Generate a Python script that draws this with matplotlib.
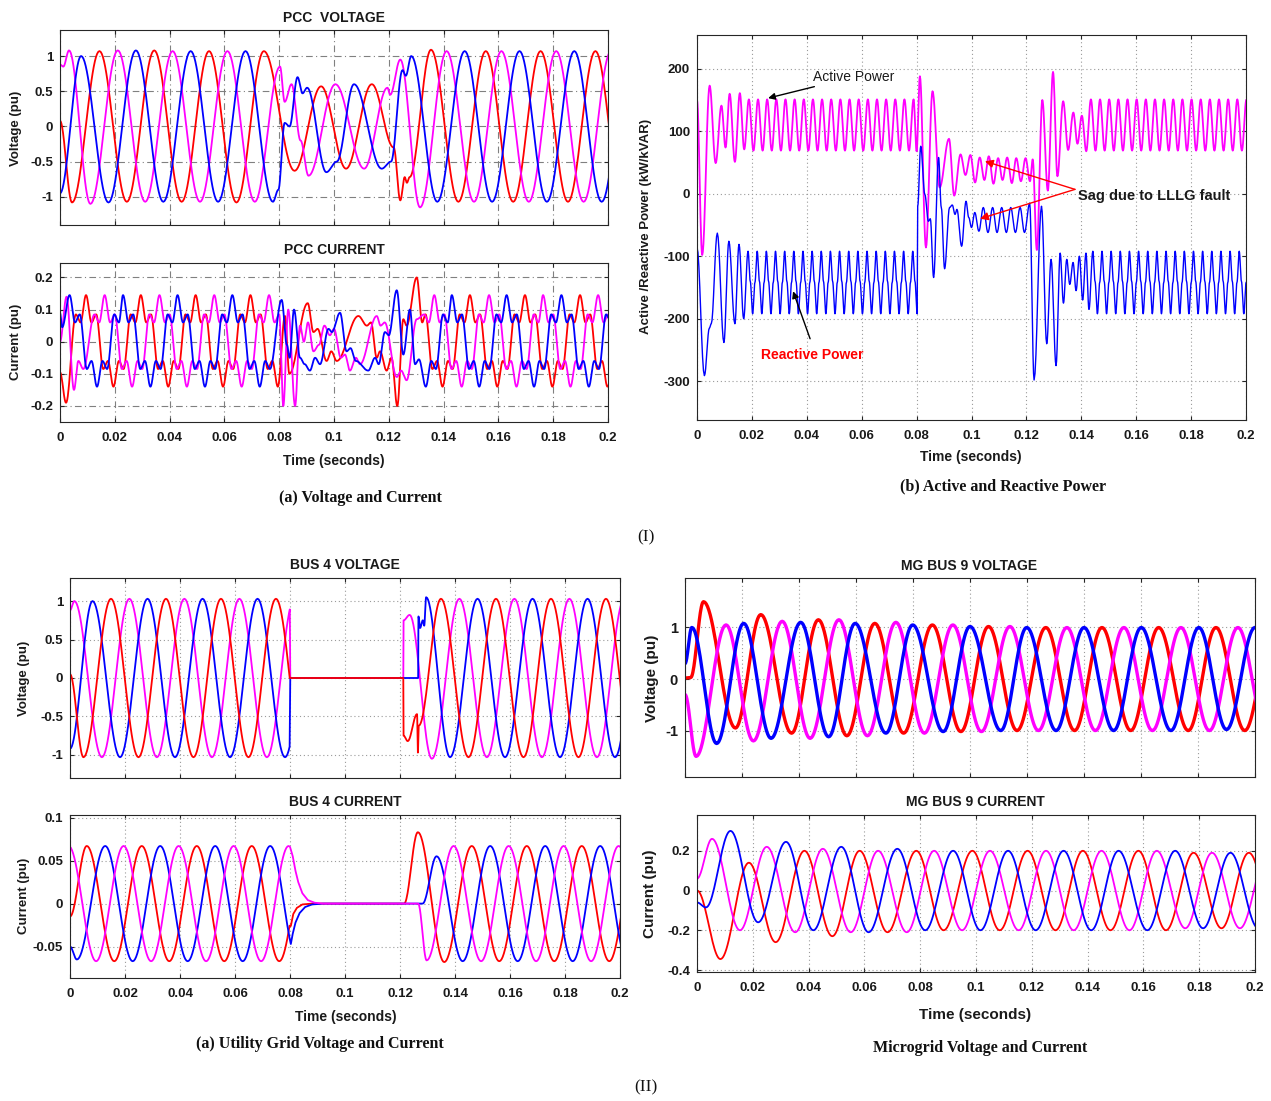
import numpy as np
import matplotlib.pyplot as plt

plt.rcParams["font.family"] = ["Liberation Sans", "DejaVu Sans"]

W, H = 1271, 1101
RED, BLUE, MAG = "#ff0000", "#0000ff", "#ff00ff"

X_TICKS = [0, 0.02, 0.04, 0.06, 0.08, 0.1, 0.12, 0.14, 0.16, 0.18, 0.2]
X_TICK_LABELS = ["0", "0.02", "0.04", "0.06", "0.08", "0.1", "0.12", "0.14", "0.16", "0.18", "0.2"]

# ---------- PCC voltage: (time, value) of successive extrema ----------
PCC_V_RED_T = [0, .0044, .0144, .0244, .0344, .0444, .0544, .0644, .0744, .0856, .0953, .1044, .1138,
               .1218, .1242, .1258, .1266, .1276, .1354, .1454, .1554, .1654, .1754, .1854, .1954, .2054]
PCC_V_RED_V = [0.08, -1.08, 1.07, -1.07, 1.08, -1.07, 1.07, -1.08, 1.07, -0.63, 0.57, -0.6, 0.6,
               -0.3, -1.05, -0.72, -0.8, -0.72, 1.09, -1.07, 1.07, -1.07, 1.07, -1.07, 1.07, -1.07]
PCC_V_MAG_T = [0, .0012, .0033, .0111, .0211, .0311, .0411, .0511, .0611, .0711, .0803, .0820, .0845,
               .0878, .0907, .1005, .1110, .1195, .1205, .1242, .1314, .1411, .1511, .1611, .1711,
               .1811, .1911, .2011]
PCC_V_MAG_V = [0.88, 0.85, 1.08, -1.1, 1.08, -1.07, 1.07, -1.07, 1.07, -1.07, 0.85, 0.35, 0.6,
               -0.2, -0.7, 0.6, -0.6, 0.55, 0.45, 0.95, -1.15, 1.07, -1.07, 1.07, -1.07,
               1.07, -1.07, 1.07]
PCC_V_BLUE_T = [0, .0077, .0177, .0277, .0377, .0477, .0577, .0677, .0777, .0797, .0820, .0838, .0867,
                .0885, .0902, .0972, .1010, .1073, .1174, .1208, .1250, .1262, .1282, .1377, .1477,
                .1577, .1677, .1777, .1877, .1977, .2077]
PCC_V_BLUE_V = [-0.95, 1.0, -1.08, 1.08, -1.07, 1.07, -1.07, 1.07, -1.07, -0.9, 0.05, 0.0, 0.7,
                0.47, 0.55, -0.65, -0.5, 0.6, -0.6, -0.5, 0.8, 0.72, 1.0, -1.07, 1.07,
                -1.07, 1.07, -1.07, 1.07, -1.07, 1.07]

# ---------- PCC current: one distorted cycle (offsets from main peak) + peak times ----------
PCC_I_SHAPE_DT = [0.0, 0.002, 0.0037, 0.0063, 0.008, 0.01, 0.012, 0.0137, 0.0163, 0.018]
PCC_I_SHAPE_V = [0.145, 0.06, 0.085, -0.085, -0.06, -0.14, -0.06, -0.085, 0.085, 0.06]

PCC_I_RED_START_T = [0.0, 0.0022, 0.0058, 0.0075]
PCC_I_RED_START_V = [-0.095, -0.19, 0.085, 0.06]
PCC_I_RED_PRE_PEAKS = [0.0095, 0.0295, 0.0495, 0.0695]
PCC_I_RED_FAULT_T = [.0821, .0837, .0904, .0925, .0940, .0973, .0990, .1010, .1089, .1120, .1135, .1156,
                     .1168, .1192, .1210, .1231, .1253, .1265, .1302, .1322, .1334]
PCC_I_RED_FAULT_V = [0.08, -0.10, 0.12, 0.03, 0.04, -0.06, -0.03, -0.06, 0.08, 0.05, 0.06, -0.05,
                     -0.03, -0.09, -0.05, -0.20, 0.07, 0.05, 0.20, 0.06, 0.085]
PCC_I_RED_POST_PEAKS = [0.1296, 0.1496, 0.1697, 0.1898, 0.2098]

PCC_I_MAG_START_T = [0.0, 0.0024, 0.0051, 0.0067, 0.0085]
PCC_I_MAG_START_V = [0.0, 0.14, -0.15, -0.06, -0.085]
PCC_I_MAG_PRE_PEAKS = [-0.0037, 0.0163, 0.0363, 0.0563, 0.0763]
PCC_I_MAG_FAULT_T = [.0815, .0833, .0858, .0876, .0890, .0905, .0925, .0945, .0965, .0985, .1000, .1025,
                     .1040, .1058, .1080, .1095, .1156, .1170, .1185, .1229, .1245, .1265, .1302]
PCC_I_MAG_FAULT_V = [-0.20, 0.10, -0.20, 0.05, 0.0, 0.06, -0.03, -0.01, 0.05, 0.02, 0.04, -0.05,
                     -0.04, -0.09, -0.05, -0.07, 0.08, 0.05, 0.06, -0.11, -0.09, -0.12, 0.07]
PCC_I_MAG_POST_PEAKS = [0.1166, 0.1366, 0.1566, 0.1763, 0.1964]

PCC_I_BLUE_START_T = [0.0, 0.0008]
PCC_I_BLUE_START_V = [0.09, 0.045]
PCC_I_BLUE_PRE_PEAKS = [0.0035, 0.0230, 0.0429, 0.0629]
PCC_I_BLUE_FAULT_T = [.0809, .0828, .0838, .0854, .0876, .0893, .0912, .0931, .0949, .0980, .0992, .1022,
                      .1046, .1060, .1080, .1125, .1150, .1163, .1186, .1200, .1229, .1253, .1277,
                      .1296, .1310]
PCC_I_BLUE_FAULT_V = [0.13, -0.01, -0.05, 0.10, -0.05, -0.07, -0.09, -0.05, -0.07, 0.04, 0.03, 0.09,
                      -0.03, -0.02, -0.06, -0.09, -0.05, -0.07, 0.03, 0.02, 0.16, -0.04, 0.10,
                      -0.07, -0.055]
PCC_I_BLUE_POST_PEAKS = [0.1235, 0.1430, 0.1630, 0.1830, 0.2030]

# ---------- Active / reactive power ----------
PQ_PERIOD = 0.02 / 6
P_START_T = [0.0, 0.0019, 0.0046, 0.0068, 0.0089, 0.0104, 0.0119, 0.0138, 0.0156, 0.0172]
P_START_V = [150, -98, 173, 49, 141, 74, 160, 51, 161, 71]
P_STEADY_DT = [0.0, PQ_PERIOD / 2]
P_STEADY_V = [151, 69]
P_PRE_FIRST, P_PRE_N = 0.0189, 19
P_FAULT_T = [.0800, .0812, .0834, .0858, .0884, .0918, .0937, .0960, .0978, .0996, .1013, .1030, .1047,
             .1063, .1080, .1097, .1113, .1130, .1147, .1163, .1180, .1197, .1213, .1223, .1238, .1258,
             .1278, .1297, .1313, .1334, .1352, .1371, .1386, .1402, .1418]
P_FAULT_V = [68, 188, -86, 164, 10, 88, -3, 63, 30, 62, 18, 58, 22, 60, 16, 57, 22, 58, 17, 57, 20,
             57, 20, 55, -90, 150, 5, 195, 28, 148, 70, 130, 80, 125, 68]
P_POST_FIRST, P_POST_N = 0.1435, 18

Q_START_T = [0.0, 0.0027, 0.0045, 0.0052, 0.0074, 0.0098, 0.0116, 0.0138, 0.0153, 0.0170]
Q_START_V = [-86, -291, -215, -208, -63, -238, -76, -208, -81, -200]
Q_STEADY_DT = [0.0, 0.0008, 0.00167, 0.0025]
Q_STEADY_V = [-92, -140, -192, -142]
Q_PRE_FIRST, Q_PRE_N = 0.0186, 19
Q_FAULT_T = [.0802, .0804, .0815, .0830, .0843, .0850, .0862, .0880, .0890, .0902, .0920, .0930, .0940,
             .0947, .0964, .0980, .0990, .1000, .1012, .1027, .1043, .1060, .1077, .1093, .1110, .1127,
             .1143, .1160, .1177, .1193, .1212, .1228, .1255, .1274, .1290, .1308, .1323, .1335, .1347,
             .1358, .1370, .1381, .1393, .1405, .1417, .1428]
Q_FAULT_V = [-192, -20, 76, -1, -44, -40, -134, 58, -22, -120, -22, -18, -33, -25, -84, -12, -38,
             -54, -30, -60, -22, -62, -22, -62, -22, -62, -22, -62, -22, -62, -15, -298, -20, -240,
             -105, -275, -95, -175, -105, -145, -110, -155, -100, -170, -95, -185]
Q_POST_FIRST, Q_POST_N = 0.1442, 18

# ---------- Bus 4 voltage ----------
B4V_RED_PRE_T = [0, .0049, .0149, .0249, .0349, .0449, .0549, .0649, .0749, .0849]
B4V_RED_PRE_V = [0.05, -1.03, 1.03, -1.03, 1.03, -1.03, 1.03, -1.03, 1.03, -1.03]
B4V_RED_POST_T = [.1213, .1228, .1262, .1265, .1268, .1349, .1449, .1549, .1649, .1749, .1849, .1949, .2049]
B4V_RED_POST_V = [-0.75, -0.82, -0.47, -0.97, -0.62, 1.03, -1.03, 1.03, -1.03, 1.03, -1.03, 1.03, -1.03]
B4V_MAG_PRE_T = [0, .0016, .0116, .0216, .0316, .0416, .0516, .0616, .0716, .0816]
B4V_MAG_PRE_V = [0.88, 1.0, -1.03, 1.03, -1.03, 1.03, -1.03, 1.03, -1.03, 1.03]
B4V_MAG_POST_T = [.1213, .1235, .1316, .1416, .1516, .1616, .1716, .1816, .1916, .2016]
B4V_MAG_POST_V = [0.75, 0.82, -1.05, 1.03, -1.03, 1.03, -1.03, 1.03, -1.03, 1.03]
B4V_BLUE_PRE_T = [0, .0082, .0182, .0282, .0382, .0482, .0582, .0682, .0782, .0882]
B4V_BLUE_PRE_V = [-0.92, 1.0, -1.03, 1.03, -1.03, 1.03, -1.03, 1.03, -1.03, 1.03]
B4V_BLUE_POST_T = [.1267, .1273, .1283, .1288, .1295, .1382, .1482, .1582, .1682, .1782, .1882, .1982, .2082]
B4V_BLUE_POST_V = [0.8, 0.65, 0.75, 0.68, 1.05, -1.03, 1.03, -1.03, 1.03, -1.03, 1.03, -1.03, 1.03]
B4V_FAULT_START = 0.0801
B4V_RED_MAG_RESTART = 0.1212
B4V_BLUE_RESTART = 0.1266

# ---------- Bus 4 current ----------
B4I_RED_PRE_T = [0, .0061, .0161, .0261, .0361, .0461, .0561, .0661, .0761, .0861]
B4I_RED_PRE_V = [-0.015, 0.067, -0.067, 0.067, -0.067, 0.067, -0.067, 0.067, -0.067, 0.067]
B4I_RED_DECAY_T = [.0803, .0812, .0825, .0845, .0880, .1215]
B4I_RED_DECAY_V = [-0.026, -0.012, -0.005, -0.001, 0.0, 0.0]
B4I_RED_POST_T = [.1215, .1265, .1361, .1461, .1561, .1661, .1761, .1861, .1961, .2061]
B4I_RED_POST_V = [0.0, 0.083, -0.068, 0.067, -0.067, 0.067, -0.067, 0.067, -0.067, 0.067]
B4I_MAG_PRE_T = [-.0005, .0095, .0195, .0295, .0395, .0495, .0595, .0695, .0795]
B4I_MAG_PRE_V = [0.067, -0.067, 0.067, -0.067, 0.067, -0.067, 0.067, -0.067, 0.067]
B4I_MAG_DECAY_T = [.0800, .0810, .0820, .0830, .0845, .0865, .0890, .0920, .1266]
B4I_MAG_DECAY_V = [0.066, 0.055, 0.038, 0.025, 0.012, 0.004, 0.001, 0.0, 0.0]
B4I_MAG_POST_T = [.1266, .1297, .1395, .1495, .1595, .1695, .1795, .1895, .1995, .2095]
B4I_MAG_POST_V = [0.0, -0.066, 0.067, -0.067, 0.067, -0.067, 0.067, -0.067, 0.067, -0.067]
B4I_BLUE_PRE_T = [0, .0025, .0128, .0228, .0328, .0428, .0528, .0628, .0728, .0828]
B4I_BLUE_PRE_V = [-0.05, -0.065, 0.067, -0.067, 0.067, -0.067, 0.067, -0.067, 0.067, -0.067]
B4I_BLUE_DECAY_T = [.0803, .0810, .0820, .0835, .0855, .0880, .0920, .1282]
B4I_BLUE_DECAY_V = [-0.047, -0.035, -0.022, -0.011, -0.004, -0.001, 0.0, 0.0]
B4I_BLUE_POST_T = [.1282, .1333, .1428, .1528, .1628, .1728, .1828, .1928, .2028]
B4I_BLUE_POST_V = [0.0, 0.055, -0.067, 0.067, -0.067, 0.067, -0.067, 0.067, -0.067]

# ---------- MG bus 9 voltage ----------
MGV_RED_T = [0, .0020, .0065, .0177, .0266, .0374, .0468, .0568, .0666, .0767, .0868, .0968, .1065,
             .1165, .1266, .1367, .1463, .1564, .1662, .1766, .1863, .1964, .2064]
MGV_RED_V = [0.02, 0.03, 1.5, -0.95, 1.25, -1.05, 1.15, -1.1, 1.08, -1.05, 1.05, -1.02, 1.02,
             -1.0, 1.0, -1.0, 1.0, -1.0, 1.0, -1.0, 1.0, -1.0, 1.0]
MGV_MAG_T = [0, .0039, .0144, .0240, .0341, .0439, .0540, .0640, .0740, .0840, .0940, .1040, .1140,
             .1240, .1340, .1440, .1540, .1640, .1740, .1840, .1940, .2040]
MGV_MAG_V = [-0.3, -1.5, 1.05, -1.2, 1.12, -1.15, 1.15, -1.1, 1.1, -1.05, 1.05, -1.02, 1.02,
             -1.0, 1.0, -1.0, 1.0, -1.0, 1.0, -1.0, 1.0, -1.0]
MGV_BLUE_T = [0, .0024, .0111, .0206, .0302, .0406, .0504, .0597, .0705, .0799, .0906, .1000, .1108,
              .1199, .1302, .1400, .1504, .1601, .1705, .1803, .1900, .2000]
MGV_BLUE_V = [0.3, 1.0, -1.25, 1.08, -1.15, 1.1, -1.12, 1.08, -1.05, 1.05, -1.02, 1.02, -1.0,
              1.0, -1.0, 1.0, -1.0, 1.0, -1.0, 1.0, -0.98, 1.0]

# ---------- MG bus 9 current ----------
MGI_RED_T = [0, .0084, .0186, .0282, .0385, .0485, .0583, .0683, .0786, .0884, .0987, .1085, .1185,
             .1285, .1383, .1482, .1582, .1681, .1780, .1880, .1978, .2078]
MGI_RED_V = [0.0, -0.345, 0.14, -0.26, 0.2, -0.23, 0.2, -0.21, 0.2, -0.2, 0.2, -0.2, 0.2,
             -0.2, 0.2, -0.2, 0.2, -0.2, 0.19, -0.19, 0.19, -0.19]
MGI_MAG_T = [0, .0054, .0154, .0250, .0352, .0451, .0551, .0649, .0752, .0850, .0950, .1050, .1153,
             .1251, .1350, .1450, .1550, .1648, .1750, .1846, .1946, .2046]
MGI_MAG_V = [0.06, 0.26, -0.2, 0.22, -0.21, 0.21, -0.21, 0.2, -0.21, 0.2, -0.2, 0.2, -0.2,
             0.2, -0.2, 0.2, -0.2, 0.2, -0.19, 0.19, -0.19, 0.19]
MGI_BLUE_T = [0, .0032, .0120, .0219, .0319, .0417, .0517, .0615, .0718, .0818, .0918, .1016, .1115,
              .1214, .1314, .1413, .1511, .1614, .1714, .1814, .1912, .2012]
MGI_BLUE_V = [-0.06, -0.085, 0.3, -0.16, 0.245, -0.2, 0.22, -0.21, 0.21, -0.2, 0.2, -0.2, 0.2,
              -0.2, 0.2, -0.2, 0.2, -0.2, 0.2, -0.19, 0.19, -0.19]


def ease(t, v, lo=-1.0, hi=1.0, n=24):
    # cosine swing between successive extrema
    t = np.asarray(t, float)
    v = np.asarray(v, float)
    s = np.linspace(0, 1, n, endpoint=False)
    w = (1 + np.cos(np.pi * s)) / 2
    x = (t[:-1, None] + s * np.diff(t)[:, None]).ravel()
    y = (v[1:, None] + (v[:-1] - v[1:])[:, None] * w).ravel()
    x = np.append(x, t[-1])
    y = np.append(y, v[-1])
    keep = (x >= lo) & (x <= hi)
    return x[keep], y[keep]


def tile(peaks, dts, vals, lo, hi):
    t = np.add.outer(np.asarray(peaks, float), dts).ravel()
    v = np.tile(vals, len(peaks))
    keep = (t >= lo) & (t <= hi)
    return list(t[keep]), list(v[keep])


def join(*parts):
    return (np.concatenate([np.asarray(p[0], float) for p in parts]),
            np.concatenate([np.asarray(p[1], float) for p in parts]))


def px(x, y):
    return x / W, 1 - y / H


fig = plt.figure(figsize=(W / 100, H / 100), dpi=100)
fig.patch.set_facecolor("white")


def make_ax(l, t, r, b):
    return fig.add_axes([l / W, 1 - b / H, (r - l) / W, (b - t) / H])


def style(ax, ylim, yticks, yticklabels, grid_ls, show_x=True):
    ax.set_xlim(0, 0.2)
    ax.set_ylim(*ylim)
    ax.set_xticks(X_TICKS)
    ax.set_xticklabels(X_TICK_LABELS if show_x else [])
    ax.set_yticks(yticks)
    ax.set_yticklabels(yticklabels)
    if grid_ls == "-.":
        ax.grid(True, ls=(0, (6, 3, 1, 3)), color="#808080", lw=0.8)
    else:
        ax.grid(True, ls=(0, (1, 2.5)), color="#9a9a9a", lw=0.8)
    ax.set_axisbelow(True)
    ax.tick_params(direction="in", length=3, top=True, right=True, labelsize=9.5,
                   color="#262626", labelcolor="#1a1a1a")
    ax.tick_params(axis="x", pad=7)
    ax.tick_params(axis="y", pad=5)
    for lab in ax.get_xticklabels() + ax.get_yticklabels():
        lab.set_fontweight("bold")
    for s in ax.spines.values():
        s.set_color("#262626")
        s.set_linewidth(0.8)


def label(x, y, s, size=9.5, rot=0, **kw):
    fig.text(*px(x, y), s, ha="center", va="center", rotation=rot, fontsize=size,
             fontweight="bold", color="#1a1a1a", **kw)


def caption(x, y, s, size=11.5, weight="bold"):
    fig.text(*px(x, y), s, ha="center", va="center", fontsize=size, fontweight=weight,
             family=["Liberation Serif", "DejaVu Serif"], color="#111111")


LW = 1.3

# ---- PCC voltage ----
ax = make_ax(60, 30, 608, 225)
ax.plot(*ease(PCC_V_RED_T, PCC_V_RED_V), color=RED, lw=LW)
ax.plot(*ease(PCC_V_MAG_T, PCC_V_MAG_V), color=MAG, lw=LW)
ax.plot(*ease(PCC_V_BLUE_T, PCC_V_BLUE_V), color=BLUE, lw=LW)
style(ax, (-1.4, 1.37), [-1, -0.5, 0, 0.5, 1], ["-1", "-0.5", "0", "0.5", "1"], "-.", show_x=False)
label(334, 18, "PCC  VOLTAGE", 10)
label(16, 128, "Voltage (pu)", 9.5, rot=90)

# ---- PCC current ----
ax = make_ax(60, 263, 608, 422)
red = join(ease(PCC_I_RED_START_T, PCC_I_RED_START_V),
           tile(PCC_I_RED_PRE_PEAKS, PCC_I_SHAPE_DT, PCC_I_SHAPE_V, 0.009, 0.0796),
           (PCC_I_RED_FAULT_T, PCC_I_RED_FAULT_V),
           tile(PCC_I_RED_POST_PEAKS, PCC_I_SHAPE_DT, PCC_I_SHAPE_V, 0.1345, 0.215))
mag = join((PCC_I_MAG_START_T, PCC_I_MAG_START_V),
           tile(PCC_I_MAG_PRE_PEAKS, PCC_I_SHAPE_DT, PCC_I_SHAPE_V, 0.012, 0.0801),
           (PCC_I_MAG_FAULT_T, PCC_I_MAG_FAULT_V),
           tile(PCC_I_MAG_POST_PEAKS, PCC_I_SHAPE_DT, PCC_I_SHAPE_V, 0.132, 0.215))
blue = join((PCC_I_BLUE_START_T, PCC_I_BLUE_START_V),
            tile(PCC_I_BLUE_PRE_PEAKS, PCC_I_SHAPE_DT, PCC_I_SHAPE_V, 0.003, 0.0767),
            (PCC_I_BLUE_FAULT_T, PCC_I_BLUE_FAULT_V),
            tile(PCC_I_BLUE_POST_PEAKS, PCC_I_SHAPE_DT, PCC_I_SHAPE_V, 0.133, 0.215))
ax.plot(*ease(*red), color=RED, lw=LW)
ax.plot(*ease(*mag), color=MAG, lw=LW)
ax.plot(*ease(*blue), color=BLUE, lw=LW)
style(ax, (-0.25, 0.245), [-0.2, -0.1, 0, 0.1, 0.2], ["-0.2", "-0.1", "0", "0.1", "0.2"], "-.")
label(334, 250, "PCC CURRENT", 10)
label(16, 342, "Current (pu)", 9.5, rot=90)
label(334, 461, "Time (seconds)", 10)
caption(360, 498, "(a) Voltage and Current")

# ---- Active / reactive power ----
ax = make_ax(697, 35, 1246, 420)
pre = tile([P_PRE_FIRST + k * PQ_PERIOD for k in range(P_PRE_N)], P_STEADY_DT, P_STEADY_V, 0.018, 0.0795)
post = tile([P_POST_FIRST + k * PQ_PERIOD for k in range(P_POST_N)], P_STEADY_DT, P_STEADY_V, 0.143, 0.21)
p_t, p_v = join((P_START_T, P_START_V), pre, (P_FAULT_T, P_FAULT_V), post)
qpre = tile([Q_PRE_FIRST + k * PQ_PERIOD for k in range(Q_PRE_N)], Q_STEADY_DT, Q_STEADY_V, 0.018, 0.0800)
qpost = tile([Q_POST_FIRST + k * PQ_PERIOD for k in range(Q_POST_N)], Q_STEADY_DT, Q_STEADY_V, 0.144, 0.21)
q_t, q_v = join((Q_START_T, Q_START_V), qpre, (Q_FAULT_T, Q_FAULT_V), qpost)
ax.plot(*ease(p_t, p_v, n=12), color=MAG, lw=1.3)
ax.plot(*ease(q_t, q_v, n=8), color=BLUE, lw=1.0)
style(ax, (-362, 254), [-300, -200, -100, 0, 100, 200], ["-300", "-200", "-100", "0", "100", "200"], ":")
ax.annotate("Active Power", xy=(0.0259, 153), xytext=(0.0423, 187), fontsize=10,
            ha="left", va="center", color="#1a1a1a",
            arrowprops=dict(arrowstyle="-|>", color="black", lw=1.0, mutation_scale=10,
                            shrinkA=0, shrinkB=0))
ax.annotate("", xy=(0.0350, -156), xytext=(0.0412, -232),
            arrowprops=dict(arrowstyle="-|>", color="black", lw=1.0, mutation_scale=10,
                            shrinkA=0, shrinkB=0))
ax.text(0.0419, -258, "Reactive Power", color=RED, fontsize=10, ha="center", va="center",
        fontweight="bold")
ax.text(0.1388, -3, "Sag due to LLLG fault", color="#1a1a1a", fontsize=10.5, ha="left", va="center",
        fontweight="bold")
for hx, hy in [(0.1049, 52), (0.1031, -40)]:
    ax.annotate("", xy=(hx, hy), xytext=(0.1377, 7),
                arrowprops=dict(arrowstyle="-|>", color=RED, lw=1.0, mutation_scale=12,
                                shrinkA=0, shrinkB=0))
label(646, 226, "Active /Reactive Power (kW/kVAR)", 9.5, rot=90)
label(971, 457, "Time (seconds)", 10)
caption(1003, 486, "(b) Active and Reactive Power")
caption(646, 537, "(I)", 12.5, "normal")

# ---- Bus 4 voltage ----
ax = make_ax(70, 578, 620, 778)
red = join(ease(B4V_RED_PRE_T, B4V_RED_PRE_V, hi=0.0800),
           ([B4V_FAULT_START, B4V_RED_MAG_RESTART], [0.0, 0.0]),
           ease(B4V_RED_POST_T, B4V_RED_POST_V))
mag = join(ease(B4V_MAG_PRE_T, B4V_MAG_PRE_V, hi=0.0800),
           ([B4V_FAULT_START, B4V_RED_MAG_RESTART], [0.0, 0.0]),
           ease(B4V_MAG_POST_T, B4V_MAG_POST_V))
blue = join(ease(B4V_BLUE_PRE_T, B4V_BLUE_PRE_V, hi=0.0800),
            ([B4V_FAULT_START, B4V_BLUE_RESTART], [0.0, 0.0]),
            ease(B4V_BLUE_POST_T, B4V_BLUE_POST_V))
ax.plot(*mag, color=MAG, lw=LW)
ax.plot(*blue, color=BLUE, lw=LW)
ax.plot(*red, color=RED, lw=LW)
style(ax, (-1.3, 1.3), [-1, -0.5, 0, 0.5, 1], ["-1", "-0.5", "0", "0.5", "1"], ":", show_x=False)
label(345, 565, "BUS 4 VOLTAGE", 10)
label(24, 678, "Voltage (pu)", 9.5, rot=90)

# ---- Bus 4 current ----
ax = make_ax(70, 815, 620, 978)
red = join(ease(B4I_RED_PRE_T, B4I_RED_PRE_V, hi=0.0800), (B4I_RED_DECAY_T, B4I_RED_DECAY_V),
           ease(B4I_RED_POST_T, B4I_RED_POST_V))
mag = join(ease(B4I_MAG_PRE_T, B4I_MAG_PRE_V, lo=0.0, hi=0.0795), (B4I_MAG_DECAY_T, B4I_MAG_DECAY_V),
           ease(B4I_MAG_POST_T, B4I_MAG_POST_V))
blue = join(ease(B4I_BLUE_PRE_T, B4I_BLUE_PRE_V, hi=0.0800), (B4I_BLUE_DECAY_T, B4I_BLUE_DECAY_V),
            ease(B4I_BLUE_POST_T, B4I_BLUE_POST_V))
ax.plot(*red, color=RED, lw=LW)
ax.plot(*blue, color=BLUE, lw=LW)
ax.plot(*mag, color=MAG, lw=LW)
style(ax, (-0.0865, 0.103), [-0.05, 0, 0.05, 0.1], ["-0.05", "0", "0.05", "0.1"], ":")
label(345, 802, "BUS 4 CURRENT", 10)
label(24, 896, "Current (pu)", 9.5, rot=90)
label(346, 1017, "Time (seconds)", 10)
caption(320, 1044, "(a) Utility Grid Voltage and Current")

# ---- MG bus 9 voltage ----
ax = make_ax(685, 578, 1255, 777)
ax.plot(*ease(MGV_RED_T, MGV_RED_V), color=RED, lw=2.4)
ax.plot(*ease(MGV_MAG_T, MGV_MAG_V), color=MAG, lw=2.4)
ax.plot(*ease(MGV_BLUE_T, MGV_BLUE_V), color=BLUE, lw=2.4)
style(ax, (-1.9, 1.96), [-1, 0, 1], ["-1", "0", "1"], ":", show_x=False)
ax.tick_params(labelsize=10.5)
label(969, 566, "MG BUS 9 VOLTAGE", 10)
label(652, 678, "Voltage (pu)", 11, rot=90)

# ---- MG bus 9 current ----
ax = make_ax(697, 815, 1255, 972)
ax.plot(*ease(MGI_RED_T, MGI_RED_V), color=RED, lw=LW)
ax.plot(*ease(MGI_MAG_T, MGI_MAG_V), color=MAG, lw=LW)
ax.plot(*ease(MGI_BLUE_T, MGI_BLUE_V), color=BLUE, lw=LW)
style(ax, (-0.41, 0.38), [-0.4, -0.2, 0, 0.2], ["-0.4", "-0.2", "0", "0.2"], ":")
label(975, 802, "MG BUS 9 CURRENT", 10)
label(650, 894, "Current (pu)", 11, rot=90)
label(975, 1015, "Time (seconds)", 11)
caption(980, 1048, "Microgrid Voltage and Current")
caption(646, 1087, "(II)", 12.5, "normal")

fig.savefig("out.png", dpi=100)
